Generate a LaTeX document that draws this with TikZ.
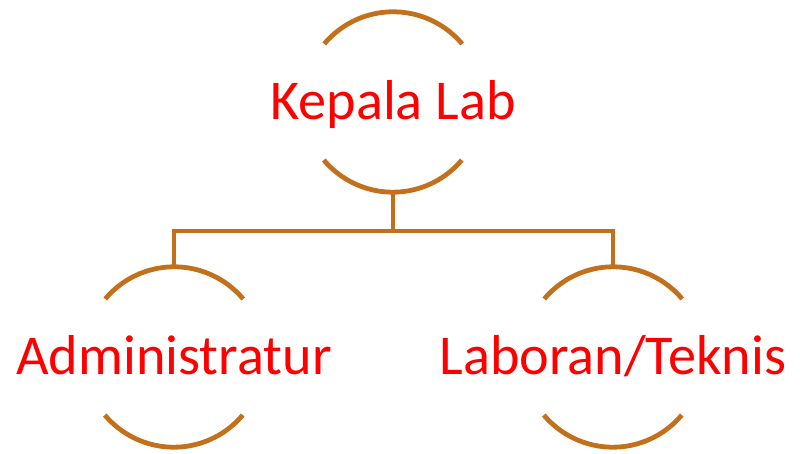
\documentclass[tikz,border=0pt]{standalone}
\usepackage{fontspec}
\setmainfont{Carlito}
\usepackage{tikz}
\definecolor{ringbrown}{RGB}{194,112,28}

\begin{document}
\begin{tikzpicture}
	[x=0.025cm,y=0.025cm,
	ring/.style={circle,minimum size=4.5cm,inner sep=0pt},
	jabatan/.style={text=red,inner sep=0pt,text height=25.3pt,text depth=0pt,font=\fontsize{40}{48}\selectfont},
	link/.style={draw=ringbrown,line width=3.4pt}]
	\useasboundingbox (0,0) rectangle (800,453);
	\node[ring] (kepala) at (393,351) {};
	\node[ring] (admin) at (174,96) {};
	\node[ring] (laboran) at (613,96) {};
	\node[jabatan] (kepalaT) at (kepala.center) {Kepala Lab};
	\node[jabatan] (adminT) at (admin.center) {Administratur};
	\node[jabatan] (laboranT) at (laboran.center) {Laboran/Teknis};
	
	\foreach \n in {kepala,admin,laboran}
	{
		\draw[link] (\n.40) arc[start angle=40,end angle=140,radius=2.25cm];
		\draw[link] (\n.220) arc[start angle=220,end angle=320,radius=2.25cm];
	}
	
	\coordinate (bar) at (393,222);
	\draw[link] (kepala.south) -- (bar);
	\draw[link] (admin.north) |- (bar) -| (laboran.north);
	
\end{tikzpicture}
\end{document}
